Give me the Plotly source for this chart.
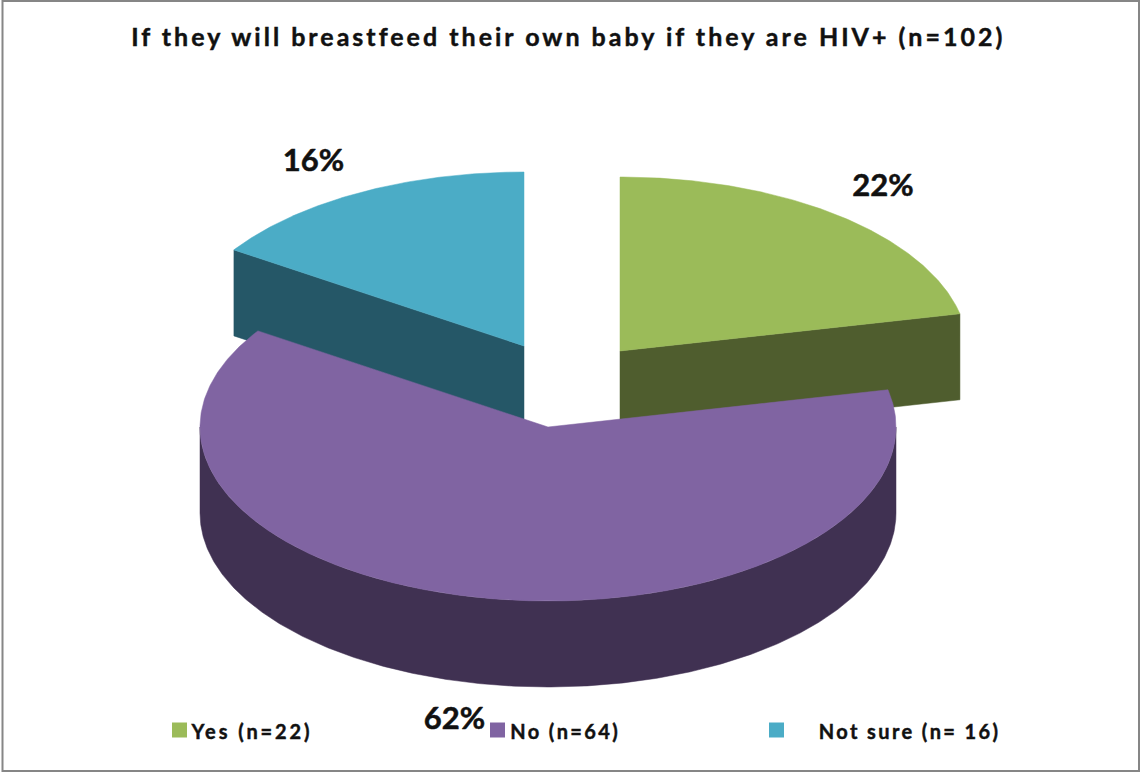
import math
import plotly.graph_objects as go

# Data
categories = ["Yes (n=22)", "No (n=64)", "Not sure (n= 16)"]
counts = [22, 64, 16]
pct_labels = ["22%", "62%", "16%"]
title_text = "If they will breastfeed their own baby if they are HIV+ (n=102)"

top_colors = ["#9BBB59", "#8064A2", "#4BACC6"]
side_colors = ["#4F5D2E", "#403152", "#255767"]

# Geometry of the tilted pie, in page pixels
RX, RY, DEPTH = 348, 174, 86
apexes = [(620, 351), (548, 427), (524, 346)]
label_pos = [(883, 188), (454.5, 721), (313.5, 163)]
legend_marker_x = [179.5, 497.5, 776.5]
legend_text_x = [203, 519, 836]
LEGEND_Y = 730

total = sum(counts)
bounds = [0]
for c in counts:
    bounds.append(bounds[-1] + c / total * 360)


def pt(apex, deg, dy=0):
    a = math.radians(deg)
    return apex[0] + RX * math.sin(a), apex[1] - RY * math.cos(a) + dy


def arc(apex, a0, a1, dy=0):
    n = max(2, int(abs(a1 - a0) * 2))
    return [pt(apex, a0 + (a1 - a0) * i / n, dy) for i in range(n + 1)]


def poly(points, color, name):
    return go.Scatter(
        x=[p[0] for p in points] + [points[0][0]],
        y=[p[1] for p in points] + [points[0][1]],
        mode="lines", fill="toself", fillcolor=color,
        line=dict(color=color, width=0.5),
        hoverinfo="skip", showlegend=False, name=name,
    )


fig = go.Figure()

# Cut faces of the exploded slices (back to front)
ap = apexes[2]
p = pt(ap, bounds[2])
fig.add_trace(poly([ap, p, (p[0], p[1] + DEPTH), (ap[0], ap[1] + DEPTH)], side_colors[2], categories[2]))
ap = apexes[0]
p = pt(ap, bounds[1])
fig.add_trace(poly([ap, p, (p[0], p[1] + DEPTH), (ap[0], ap[1] + DEPTH)], side_colors[0], categories[0]))
# Tops of the two exploded slices
for i in (0, 2):
    fig.add_trace(poly([apexes[i]] + arc(apexes[i], bounds[i], bounds[i + 1]), top_colors[i], categories[i]))
# No: outer rim, then top
ap = apexes[1]
rim = arc(ap, 90, 270)
fig.add_trace(poly(rim + [(x, y + DEPTH) for x, y in reversed(rim)], side_colors[1], categories[1]))
fig.add_trace(poly([ap] + arc(ap, bounds[1], bounds[2]), top_colors[1], categories[1]))

# Percent labels
fig.add_trace(go.Scatter(
    x=[p[0] for p in label_pos], y=[p[1] for p in label_pos], text=pct_labels,
    mode="text", textposition="middle center",
    textfont=dict(family="Lato", size=31, color="#111111", weight="bold"),
    hoverinfo="skip", showlegend=False,
))

# Legend
annotations = []
for i, cat in enumerate(categories):
    fig.add_trace(go.Scatter(
        x=[legend_marker_x[i]], y=[LEGEND_Y], mode="markers",
        marker=dict(symbol="square", size=15, color=top_colors[i], line=dict(width=0)),
        hoverinfo="skip", showlegend=False, name=cat,
    ))
    annotations.append(dict(
        x=legend_text_x[i], y=LEGEND_Y + 1, text=cat, showarrow=False, xanchor="left",
        font=dict(family="Lato", size=20, color="#111111", weight="bold"),
    ))
annotations.append(dict(
    x=568, y=36, text=title_text, showarrow=False,
    font=dict(family="Lato", size=25, color="#111111", weight="bold"),
))

fig.update_layout(
    width=1140, height=772, margin=dict(l=0, r=0, t=0, b=0),
    paper_bgcolor="white", plot_bgcolor="white",
    xaxis=dict(range=[0, 1140], visible=False, fixedrange=True),
    yaxis=dict(range=[772, 0], visible=False, fixedrange=True),
    annotations=annotations,
    shapes=[dict(type="rect", x0=2.5, x1=1139, y0=1, y1=771, line=dict(color="#868686", width=2))],
)

post = """
document.body.style.margin = '0';
document.querySelectorAll('.annotation-text').forEach(function (t) {
  var s = t.textContent;
  t.style.letterSpacing = s.length > 30 ? '3px' : (s.indexOf('Yes') === 0 ? '2.9px' : '2.4px');
  t.style.stroke = '#111111';
  t.style.strokeWidth = '0.45px';
});
document.querySelectorAll('.textpoint text').forEach(function (t) {
  t.style.stroke = '#111111';
  t.style.strokeWidth = '0.5px';
});
"""
fig.write_html("out.html", config=dict(displayModeBar=False), post_script=post)
